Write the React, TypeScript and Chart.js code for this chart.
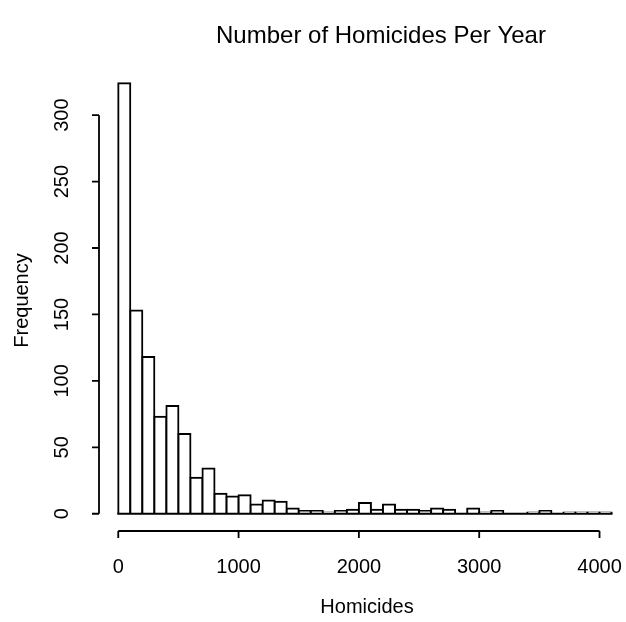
import React, { useEffect, useRef } from "react";
import { Chart, registerables } from "chart.js";

Chart.register(...registerables);

// Histogram bins (lower edges) and counts
const BIN_WIDTH = 100;
const BIN_STARTS = [
  0, 100, 200, 300, 400, 500, 600, 700, 800, 900,
  1000, 1100, 1200, 1300, 1400, 1500, 1600, 1700, 1800, 1900,
  2000, 2100, 2200, 2300, 2400, 2500, 2600, 2700, 2800, 2900,
  3000, 3100, 3200, 3300, 3400, 3500, 3600, 3700, 3800, 3900, 4000,
];
const COUNTS = [
  324, 153, 118, 73, 81, 60, 27, 34, 15, 13,
  14, 7, 10, 9, 4, 2, 2, 1, 2, 3,
  8, 3, 7, 3, 3, 2, 4, 3, 0, 4,
  1, 2, 0, 0, 1, 2, 0, 1, 1, 1, 1,
];
const X_TICKS = [0, 1000, 2000, 3000, 4000];
const Y_TICKS = [0, 50, 100, 150, 200, 250, 300];
const TITLE = "Number of Homicides Per Year";
const X_LABEL = "Homicides";
const Y_LABEL = "Frequency";

const FONT = '"Liberation Sans", Arial, Helvetica, sans-serif';

const axesPlugin = {
  id: "rAxes",
  afterDraw(chart: any) {
    const ctx = chart.ctx;
    const xs = chart.scales.x;
    const ys = chart.scales.y;
    const { left, bottom, top } = chart.chartArea;
    ctx.save();
    ctx.strokeStyle = "#000";
    ctx.fillStyle = "#000";
    ctx.lineWidth = 2;
    ctx.lineCap = "butt";

    // baseline under bars
    const y0 = ys.getPixelForValue(0);
    ctx.beginPath();
    ctx.moveTo(xs.getPixelForValue(BIN_STARTS[0]) - 1, y0);
    ctx.lineTo(xs.getPixelForValue(BIN_STARTS[BIN_STARTS.length - 1] + BIN_WIDTH) + 1, y0);
    ctx.stroke();

    // x axis
    ctx.lineWidth = 1.8;
    const ax = bottom;
    ctx.beginPath();
    ctx.moveTo(xs.getPixelForValue(X_TICKS[0]), ax);
    ctx.lineTo(xs.getPixelForValue(X_TICKS[X_TICKS.length - 1]), ax);
    X_TICKS.forEach((v) => {
      const px = xs.getPixelForValue(v);
      ctx.moveTo(px, ax);
      ctx.lineTo(px, ax + 7);
    });
    ctx.stroke();
    ctx.font = `20px ${FONT}`;
    ctx.textAlign = "center";
    ctx.textBaseline = "middle";
    X_TICKS.forEach((v) => {
      ctx.fillText(String(v), xs.getPixelForValue(v), 567);
    });

    // y axis
    ctx.beginPath();
    ctx.moveTo(left, ys.getPixelForValue(Y_TICKS[0]));
    ctx.lineTo(left, ys.getPixelForValue(Y_TICKS[Y_TICKS.length - 1]));
    Y_TICKS.forEach((v) => {
      const py = ys.getPixelForValue(v);
      ctx.moveTo(left, py);
      ctx.lineTo(left - 7, py);
    });
    ctx.stroke();
    Y_TICKS.forEach((v) => {
      ctx.save();
      ctx.translate(62, ys.getPixelForValue(v));
      ctx.rotate(-Math.PI / 2);
      ctx.fillText(String(v), 0, 0);
      ctx.restore();
    });

    // axis titles
    ctx.fillText(X_LABEL, 367, 607);
    ctx.save();
    ctx.translate(22, (top + bottom) / 2 + 2);
    ctx.rotate(-Math.PI / 2);
    ctx.fillText(Y_LABEL, 0, 0);
    ctx.restore();

    // main title
    ctx.font = `24px ${FONT}`;
    ctx.fillText(TITLE, 381, 36);
    ctx.restore();
  },
};

export default function App() {
  const ref = useRef<HTMLCanvasElement | null>(null);
  useEffect(() => {
    if (!ref.current) return;
    const chart = new Chart(ref.current, {
      type: "bar",
      data: {
        datasets: [
          {
            data: BIN_STARTS.map((s, i) => ({ x: s + BIN_WIDTH / 2, y: COUNTS[i] })),
            backgroundColor: "#ffffff",
            borderColor: "#000000",
            borderWidth: { top: 2, left: 2, right: 2, bottom: 0 },
            borderSkipped: "start",
            barPercentage: 1,
            categoryPercentage: 1,
            inflateAmount: 1,
          } as any,
        ],
      },
      options: {
        responsive: false,
        animation: false,
        devicePixelRatio: 1,
        layout: { padding: { left: 99, right: 0, top: 66, bottom: 91 } },
        plugins: { legend: { display: false }, title: { display: false }, tooltip: { enabled: false } },
        scales: {
          x: { type: "linear", min: -160, max: 4220, display: false, offset: false },
          y: { type: "linear", min: -13, max: 337, display: false },
        },
      },
      plugins: [axesPlugin],
    });
    return () => chart.destroy();
  }, []);
  return (
    <div style={{ position: "absolute", left: 0, top: 0, width: 626, height: 622, background: "#fff" }}>
      <canvas ref={ref} width={626} height={622} />
    </div>
  );
}
